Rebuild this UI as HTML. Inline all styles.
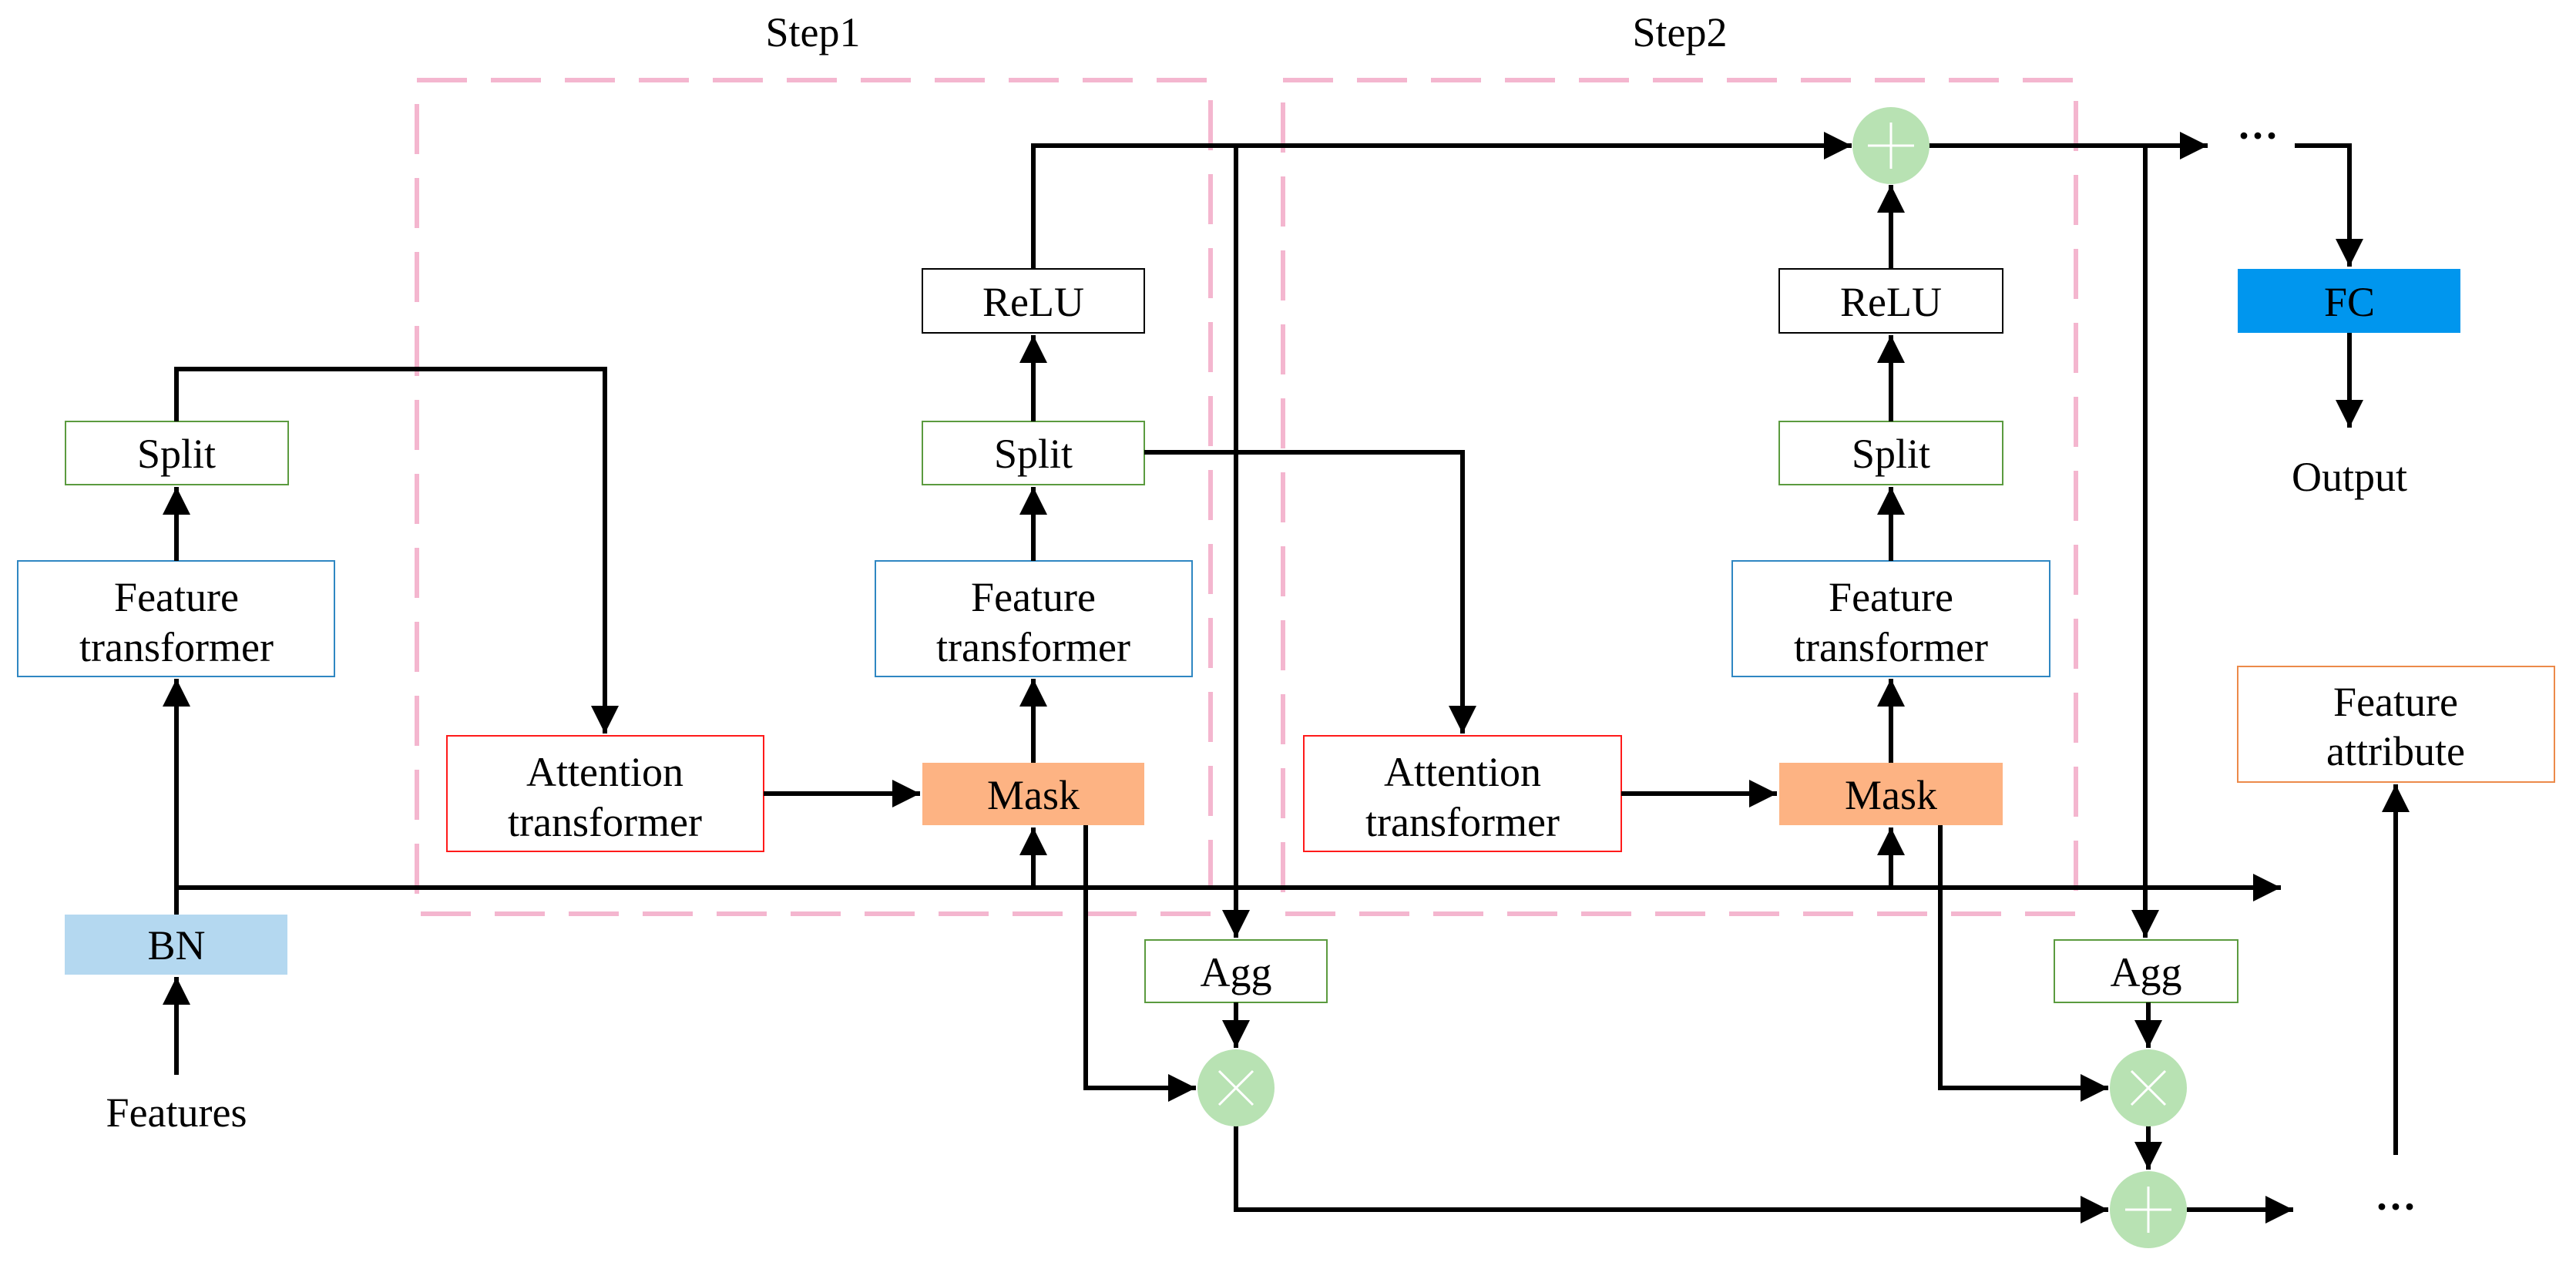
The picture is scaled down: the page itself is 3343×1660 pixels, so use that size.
<!DOCTYPE html>
<html><head><meta charset="utf-8"><style>
html,body{margin:0;padding:0;background:#fff;}
svg{display:block;}
text{font-family:"Liberation Serif",serif;font-size:54px;fill:#000;text-anchor:middle;}
</style></head><body>
<svg width="3343" height="1660" viewBox="0 0 3343 1660" xmlns="http://www.w3.org/2000/svg">
<defs>
<marker id="a" viewBox="0 0 10 10" refX="10" refY="5" markerWidth="6" markerHeight="6" markerUnits="strokeWidth" orient="auto">
<path d="M0,0 L10,5 L0,10 z" fill="#000"/></marker>
</defs>
<g fill="none" stroke="#f4b6cf" stroke-width="6" stroke-dasharray="65 31">
<rect x="541" y="104" width="1030" height="1082"/>
<rect x="1665" y="104" width="1029" height="1082"/>
</g>
<text x="1055" y="60">Step1</text>
<text x="2180" y="60">Step2</text>

<g stroke-width="2">
<rect x="85" y="547" width="289" height="82" fill="#fff" stroke="#5b9b3f"/>
<rect x="23" y="728" width="411" height="150" fill="#fff" stroke="#2f87c2"/>
<rect x="84" y="1187" width="289" height="78" fill="#b4d8f0" stroke="none"/>
<rect x="580" y="955" width="411" height="150" fill="#fff" stroke="#ff1a1a"/>
<rect x="1197" y="990" width="288" height="81" fill="#fdb383" stroke="none"/>
<rect x="1136" y="728" width="411" height="150" fill="#fff" stroke="#2f87c2"/>
<rect x="1197" y="547" width="288" height="82" fill="#fff" stroke="#5b9b3f"/>
<rect x="1197" y="349" width="288" height="83" fill="#fff" stroke="#000"/>
<rect x="1486" y="1220" width="236" height="81" fill="#fff" stroke="#5b9b3f"/>
<rect x="1692" y="955" width="412" height="150" fill="#fff" stroke="#ff1a1a"/>
<rect x="2309" y="990" width="290" height="81" fill="#fdb383" stroke="none"/>
<rect x="2248" y="728" width="412" height="150" fill="#fff" stroke="#2f87c2"/>
<rect x="2309" y="547" width="290" height="82" fill="#fff" stroke="#5b9b3f"/>
<rect x="2309" y="349" width="290" height="83" fill="#fff" stroke="#000"/>
<rect x="2666" y="1220" width="238" height="81" fill="#fff" stroke="#5b9b3f"/>
<rect x="2904" y="349" width="289" height="83" fill="#0096ee" stroke="none"/>
<rect x="2904" y="865" width="411" height="150" fill="#fff" stroke="#ec8a4a"/>
</g>

<g fill="none" stroke="#000" stroke-width="6">
<path d="M229 1395 V1268" marker-end="url(#a)"/>
<path d="M229 1187 V881" marker-end="url(#a)"/>
<path d="M229 728 V632" marker-end="url(#a)"/>
<path d="M229 547 V479 H785 V952" marker-end="url(#a)"/>
<path d="M229 1152 H2960" marker-end="url(#a)"/>
<path d="M991 1030 H1194" marker-end="url(#a)"/>
<path d="M1341 1152 V1074" marker-end="url(#a)"/>
<path d="M1341 990 V881" marker-end="url(#a)"/>
<path d="M1341 728 V632" marker-end="url(#a)"/>
<path d="M1341 547 V435" marker-end="url(#a)"/>
<path d="M1341 349 V189 H2403" marker-end="url(#a)"/>
<path d="M1604 189 V1217" marker-end="url(#a)"/>
<path d="M1485 587 H1898 V952" marker-end="url(#a)"/>
<path d="M1409 1071 V1412 H1552" marker-end="url(#a)"/>
<path d="M1604 1301 V1360" marker-end="url(#a)"/>
<path d="M1604 1460 V1570 H2736" marker-end="url(#a)"/>
<path d="M2104 1030 H2306" marker-end="url(#a)"/>
<path d="M2454 1152 V1074" marker-end="url(#a)"/>
<path d="M2454 990 V881" marker-end="url(#a)"/>
<path d="M2454 728 V632" marker-end="url(#a)"/>
<path d="M2454 547 V435" marker-end="url(#a)"/>
<path d="M2454 349 V240" marker-end="url(#a)"/>
<path d="M2503 189 H2865" marker-end="url(#a)"/>
<path d="M2784 189 V1217" marker-end="url(#a)"/>
<path d="M2978 189 H3049 V346" marker-end="url(#a)"/>
<path d="M3049 432 V555" marker-end="url(#a)"/>
<path d="M2518 1071 V1412 H2736" marker-end="url(#a)"/>
<path d="M2788 1301 V1360" marker-end="url(#a)"/>
<path d="M2788 1460 V1518" marker-end="url(#a)"/>
<path d="M2838 1570 H2976" marker-end="url(#a)"/>
<path d="M3109 1499 V1018" marker-end="url(#a)"/>
</g>

<g fill="#b8e2b3">
<circle cx="2454" cy="189" r="50"/>
<circle cx="1604" cy="1412" r="50"/>
<circle cx="2788" cy="1412" r="50"/>
<circle cx="2788" cy="1570" r="50"/>
</g>
<g stroke="#fff" stroke-width="3">
<path d="M2424 189 H2484 M2454 159 V219"/>
<path d="M1582 1390 L1626 1434 M1626 1390 L1582 1434"/>
<path d="M2766 1390 L2810 1434 M2810 1390 L2766 1434"/>
<path d="M2758 1570 H2818 M2788 1540 V1600"/>
</g>

<text x="229" y="607">Split</text>
<text x="229" y="793">Feature</text>
<text x="229" y="858">transformer</text>
<text x="229" y="1245">BN</text>
<text x="229" y="1462">Features</text>
<text x="785" y="1020">Attention</text>
<text x="785" y="1085">transformer</text>
<text x="1341" y="1050">Mask</text>
<text x="1341" y="793">Feature</text>
<text x="1341" y="858">transformer</text>
<text x="1341" y="607">Split</text>
<text x="1341" y="410">ReLU</text>
<text x="1604" y="1280">Agg</text>
<text x="1898" y="1020">Attention</text>
<text x="1898" y="1085">transformer</text>
<text x="2454" y="1050">Mask</text>
<text x="2454" y="793">Feature</text>
<text x="2454" y="858">transformer</text>
<text x="2454" y="607">Split</text>
<text x="2454" y="410">ReLU</text>
<text x="2785" y="1280">Agg</text>
<text x="3049" y="410">FC</text>
<text x="3049" y="637">Output</text>
<text x="3109" y="929">Feature</text>
<text x="3109" y="993">attribute</text>
<text x="2930" y="194" style="font-weight:bold">···</text>
<text x="3109" y="1584" style="font-weight:bold">···</text>
</svg>
</body></html>
